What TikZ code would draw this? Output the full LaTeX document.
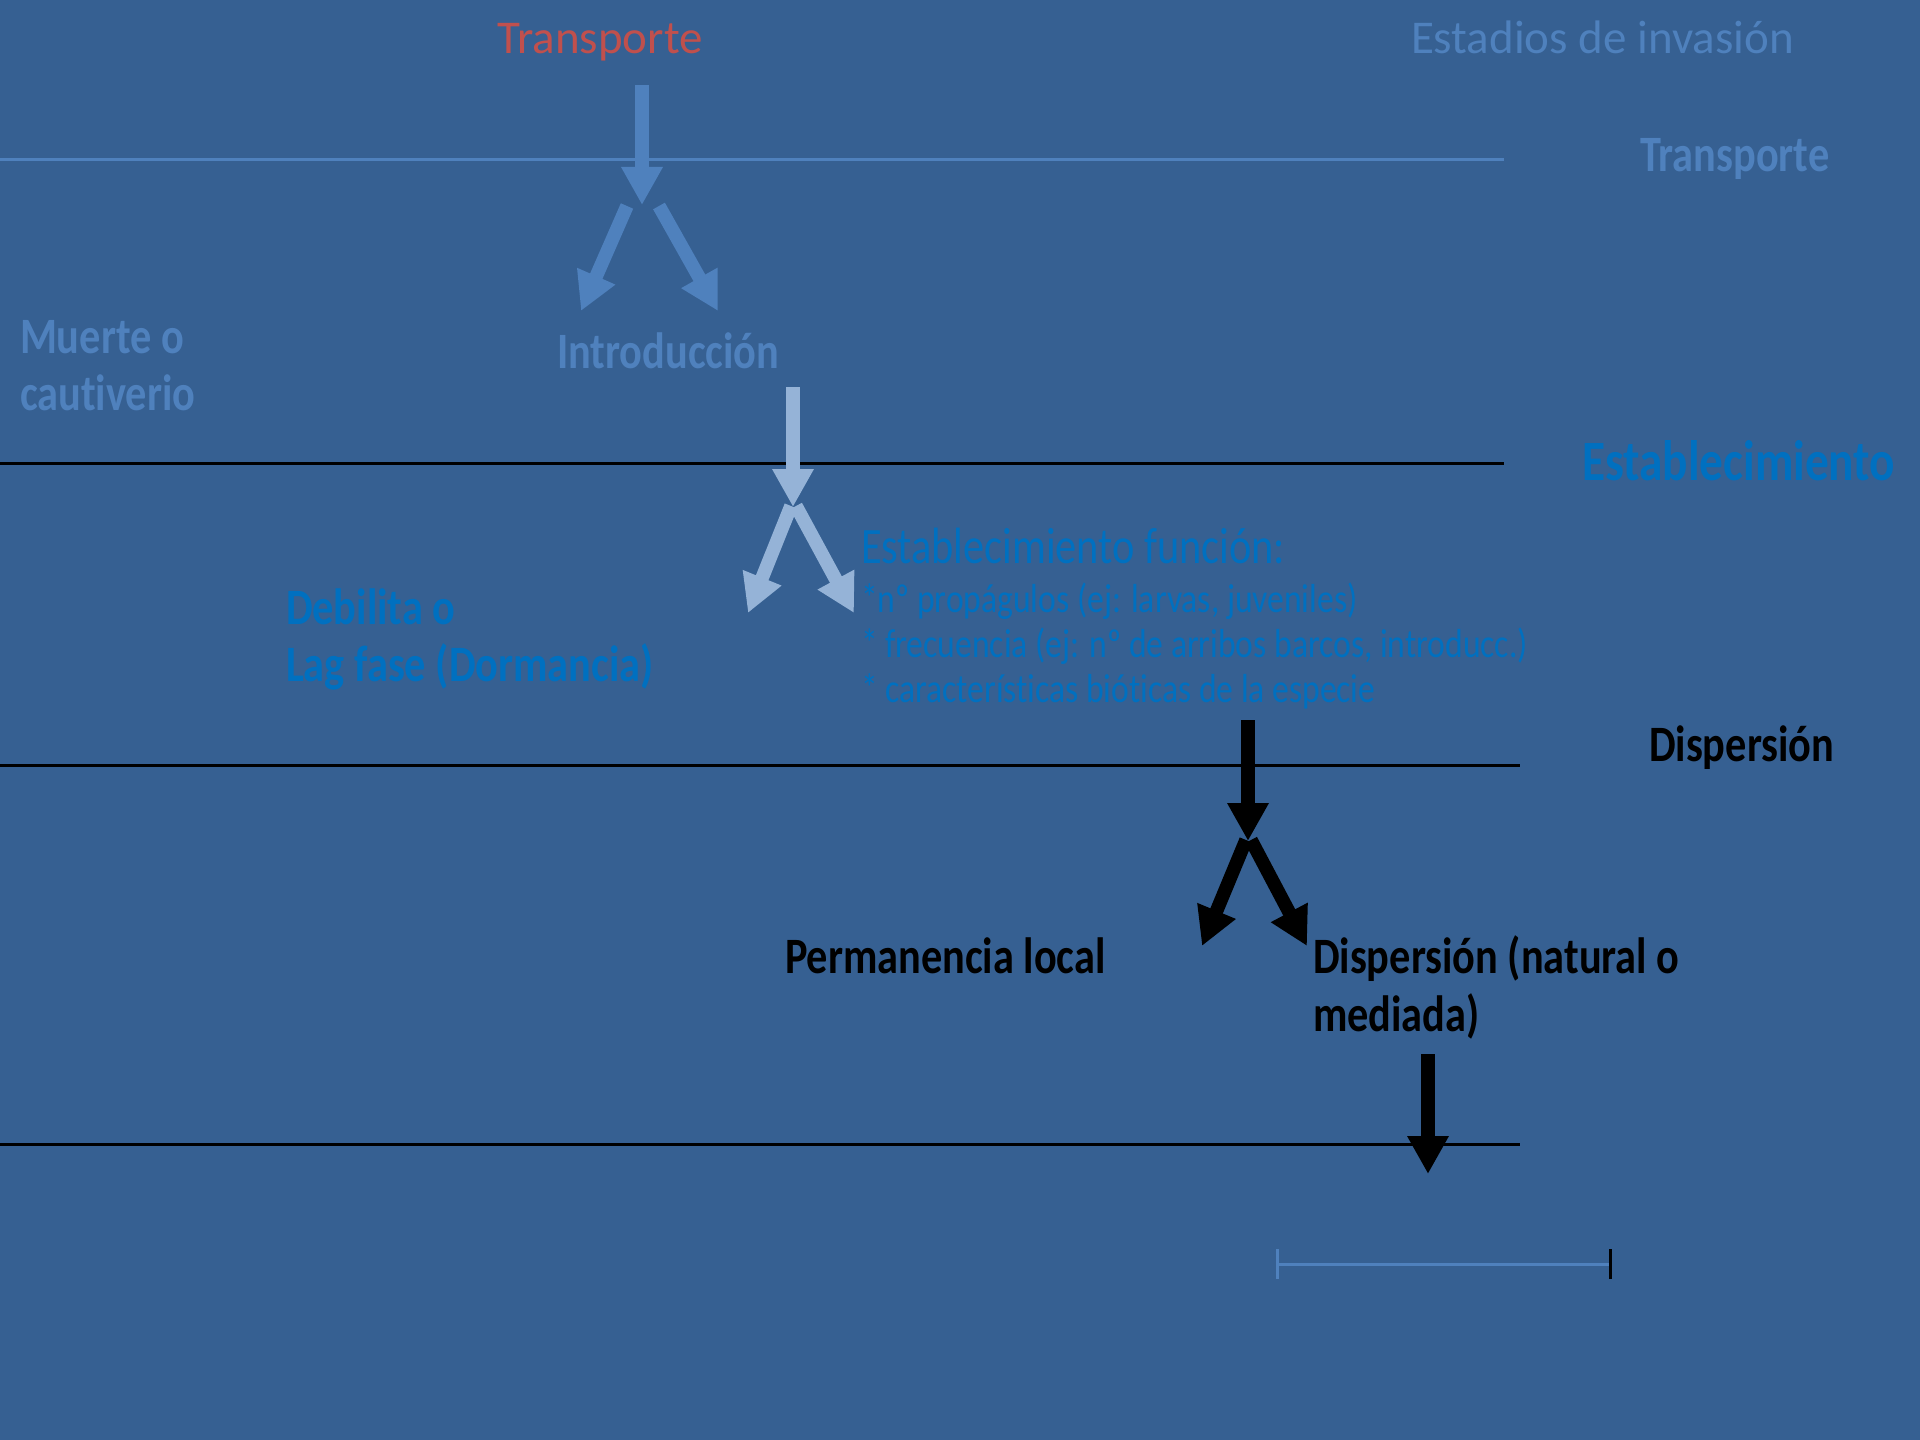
\documentclass[tikz,border=0pt]{standalone}
\usepackage{fontspec}
\setmainfont{Carlito}
\newfontfamily\condfont[FakeStretch=0.83, Ligatures={NoCommon}]{Carlito}
\usetikzlibrary{arrows.meta}

\definecolor{slidebg}{RGB}{54,96,146}
\definecolor{accentblue}{HTML}{4F81BD}
\definecolor{paleblue}{HTML}{95B3D7}
\definecolor{strongblue}{HTML}{0070C0}
\definecolor{accentred}{HTML}{C0504D}

\tikzset{
  lbl/.style={anchor=base west, inner sep=0pt, outer sep=0pt},
  plainbig/.style={lbl, font=\fontsize{47bp}{54bp}\selectfont},
  stage/.style={lbl, font=\condfont\bfseries\fontsize{51bp}{58bp}\selectfont},
  stagebig/.style={lbl, font=\condfont\bfseries\fontsize{57bp}{64bp}\selectfont},
  factor/.style={lbl, font=\condfont\fontsize{51bp}{58bp}\selectfont},
  factorsmall/.style={lbl, font=\condfont\fontsize{40.5bp}{45bp}\selectfont},
  blockarrow/.style={line width=13.5bp, -{Triangle[width=39bp,length=38bp]}},
  divider/.style={line width=3bp}
}

\begin{document}
\begin{tikzpicture}[x=1bp, y=-1bp]
  % page and background
  \useasboundingbox (0,0) rectangle (1920,1440);
  \fill[slidebg] (0,0) rectangle (1920,1440);

  % stage dividers
  \draw[divider, accentblue] (0,160) -- (1504,160);
  \draw[divider, black] (0,463) -- (1504,463);
  \draw[divider, black] (0,765) -- (1520,765);
  \draw[divider, black] (0,1144) -- (1520,1144);

  % headings
  \node[plainbig, accentred, anchor=base] (top) at (600,54) {Transporte};
  \node[plainbig, accentblue] (title) at (1411,54) {Estadios de invasión};

  % stage names on the right
  \node[stage, accentblue] (sTrans) at (1640,172) {Transporte};
  \node[stagebig, strongblue] (sEstab) at (1582,480) {Establecimiento};
  \node[stage, black] (sDisp) at (1649,761) {Dispersión};

  % outcomes
  \node[stage, accentblue] (muerteA) at (20,353) {Muerte o};
  \node[stage, accentblue] (muerteB) at (20,410) {cautiverio};
  \node[stage, accentblue] (intro) at (557,368) {Introducción};

  \node[stage, strongblue] (debilA) at (286,624) {Debilita o};
  \node[stage, strongblue] (debilB) at (286,681) {Lag fase (Dormancia)};

  \node[factor, strongblue] (funcion) at (861,563) {Establecimiento función:};
  \node[factorsmall, strongblue] (fA) at (861,612) {*nº propágulos (ej: larvas, juveniles)};
  \node[factorsmall, strongblue] (fB) at (861,657) {* frecuencia (ej: nº de arribos barcos, introducc.)};
  \node[factorsmall, strongblue] (fC) at (861,702) {* características bióticas de la especie};

  \node[stage, black] (perm) at (785,973) {Permanencia local};
  \node[stage, black] (dispA) at (1313,973) {Dispersión (natural o};
  \node[stage, black] (dispB) at (1313,1031) {mediada)};

  % arrow anchor points
  \coordinate (a1s) at (642,85);   \coordinate (a1e) at (642,205);
  \coordinate (a1ls) at (627,206); \coordinate (a1le) at (581,311);
  \coordinate (a1rs) at (659,206); \coordinate (a1re) at (718,311);

  \coordinate (a2s) at (793,387);  \coordinate (a2e) at (793,507);
  \coordinate (a2ls) at (791,506); \coordinate (a2le) at (748,613);
  \coordinate (a2rs) at (796,506); \coordinate (a2re) at (854,613);

  \coordinate (a3s) at (1248,720);  \coordinate (a3e) at (1248,841);
  \coordinate (a3ls) at (1246,840); \coordinate (a3le) at (1202,946);
  \coordinate (a3rs) at (1251,840); \coordinate (a3re) at (1307,946);

  \coordinate (a4s) at (1428,1054); \coordinate (a4e) at (1428,1174);

  % transport branch
  \draw[blockarrow, accentblue] (a1s) -- (a1e);
  \draw[blockarrow, accentblue] (a1ls) -- (a1le);
  \draw[blockarrow, accentblue] (a1rs) -- (a1re);

  % introduction branch
  \draw[blockarrow, paleblue] (a2s) -- (a2e);
  \draw[blockarrow, paleblue] (a2ls) -- (a2le);
  \draw[blockarrow, paleblue] (a2rs) -- (a2re);

  % establishment branch
  \draw[blockarrow, black] (a3s) -- (a3e);
  \draw[blockarrow, black] (a3ls) -- (a3le);
  \draw[blockarrow, black] (a3rs) -- (a3re);

  % dispersal onwards
  \draw[blockarrow, black] (a4s) -- (a4e);

  % scale bar
  \coordinate (barL) at (1277,1264);
  \coordinate (barR) at (1610,1264);
  \draw[line width=3bp, accentblue] (barL) -- (barR);
  \draw[line width=3bp, accentblue] ([yshift=-15bp]barL) -- ([yshift=15bp]barL);
  \draw[line width=3bp, black] ([yshift=-15bp]barR) -- ([yshift=15bp]barR);
\end{tikzpicture}
\end{document}
